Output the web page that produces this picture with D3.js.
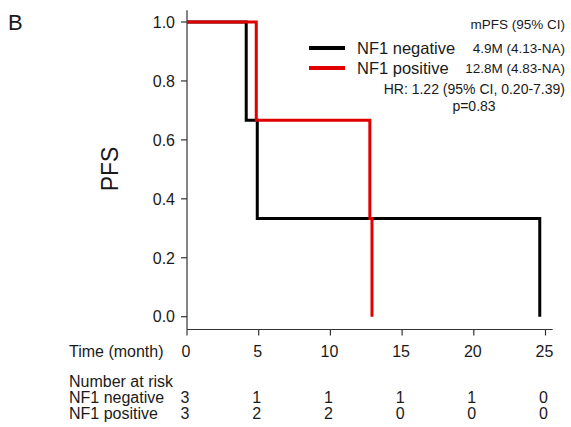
<!DOCTYPE html>
<html><head><meta charset="utf-8">
<script src="https://cdn.jsdelivr.net/npm/d3@7"></script>
<style>body{margin:0;background:#fff}svg{display:block}text{font-family:"Liberation Sans",Arial,sans-serif;fill:#1a1a1a}</style>
</head><body><svg id="c" width="571" height="427"></svg>
<script>
// Data
const groups = ["NF1 negative", "NF1 positive"];
const colors = ["#000000", "#e00000"];
const negTimes = [0, 4.13, 4.9, 24.6];
const negSurv  = [1.0, 0.667, 0.333, 0.0];
const posTimes = [0, 4.83, 12.75, 12.9];
const posSurv  = [1.0, 0.667, 0.333, 0.0];
const xTicks = [0, 5, 10, 15, 20, 25];
const yTicks = [0.0, 0.2, 0.4, 0.6, 0.8, 1.0];
const riskNeg = [3, 1, 1, 1, 1, 0];
const riskPos = [3, 2, 2, 0, 0, 0];
const statsHeader = "mPFS (95% CI)";
const statsRows = ["4.9M (4.13-NA)", "12.8M (4.83-NA)"];
const hrText = "HR: 1.22 (95% CI, 0.20-7.39)";
const pText = "p=0.83";

const svg = d3.select("#c");
const x = d3.scaleLinear().domain([0, 25]).range([187, 545.5]);
const y = d3.scaleLinear().domain([0, 1]).range([316.7, 22]);

// axes lines
svg.append("line").attr("x1", x(0)).attr("x2", x(0)).attr("y1", y(1.04)).attr("y2", 329.5)
  .attr("stroke", "#333").attr("stroke-width", 1.2);
svg.append("line").attr("x1", x(0)).attr("x2", x(25.5)).attr("y1", 329.5).attr("y2", 329.5)
  .attr("stroke", "#333").attr("stroke-width", 1.2);

// y ticks
const yt = svg.append("g");
yTicks.forEach(v => {
  yt.append("line").attr("x1", x(0) - 6).attr("x2", x(0)).attr("y1", y(v)).attr("y2", y(v))
    .attr("stroke", "#333").attr("stroke-width", 1.2);
  yt.append("text").attr("x", 175).attr("y", y(v)).attr("dy", "0.36em")
    .attr("text-anchor", "end").attr("font-size", 16).text(d3.format(".1f")(v));
});
// x ticks
xTicks.forEach(v => {
  svg.append("line").attr("x1", x(v)).attr("x2", x(v)).attr("y1", 329.5).attr("y2", 335.5)
    .attr("stroke", "#333").attr("stroke-width", 1.2);
  svg.append("text").attr("x", x(v) - 1).attr("y", 356.5).attr("text-anchor", "middle")
    .attr("font-size", 16).text(v);
});

// curves
const line = d3.line().x(d => x(d[0])).y(d => y(d[1])).curve(d3.curveStepAfter);
[[negTimes, negSurv], [posTimes, posSurv]].forEach((s, i) => {
  const pts = s[0].map((t, k) => [t, s[1][k]]);
  svg.append("path").attr("d", line(pts))
    .attr("fill", "none").attr("stroke", colors[i]).attr("stroke-width", 3)
    .attr("stroke-linejoin", "miter");
});

// labels
svg.append("text").attr("x", 8).attr("y", 30).attr("font-size", 22).text("B");
svg.append("text").attr("transform", "translate(118,169) rotate(-90)")
  .attr("text-anchor", "middle").attr("font-size", 23).text("PFS");

// legend
groups.forEach((g, i) => {
  const yy = 48 + i * 20;
  svg.append("line").attr("x1", 309).attr("x2", 345).attr("y1", yy).attr("y2", yy)
    .attr("stroke", colors[i]).attr("stroke-width", 4);
  svg.append("text").attr("x", 357).attr("y", yy + 6).attr("font-size", 16.5).text(g);
  svg.append("text").attr("x", 565).attr("y", yy + 5).attr("text-anchor", "end")
    .attr("font-size", 13.5).text(statsRows[i]);
});
svg.append("text").attr("x", 565).attr("y", 29).attr("text-anchor", "end")
  .attr("font-size", 13.5).text(statsHeader);
svg.append("text").attr("x", 565).attr("y", 94).attr("text-anchor", "end")
  .attr("font-size", 14).text(hrText);
svg.append("text").attr("x", 474).attr("y", 110.5).attr("text-anchor", "middle")
  .attr("font-size", 14).text(pText);

// risk table
svg.append("text").attr("x", 69).attr("y", 356.5).attr("font-size", 16).text("Time (month)");
svg.append("text").attr("x", 69).attr("y", 387).attr("font-size", 16).text("Number at risk");
[[riskNeg, 402.5], [riskPos, 419]].forEach((r, i) => {
  svg.append("text").attr("x", 69).attr("y", r[1]).attr("font-size", 16).text(groups[i]);
  xTicks.forEach((t, j) => {
    svg.append("text").attr("x", x(t) - 2).attr("y", r[1]).attr("text-anchor", "middle")
      .attr("font-size", 16).text(r[0][j]);
  });
});
</script></body></html>
